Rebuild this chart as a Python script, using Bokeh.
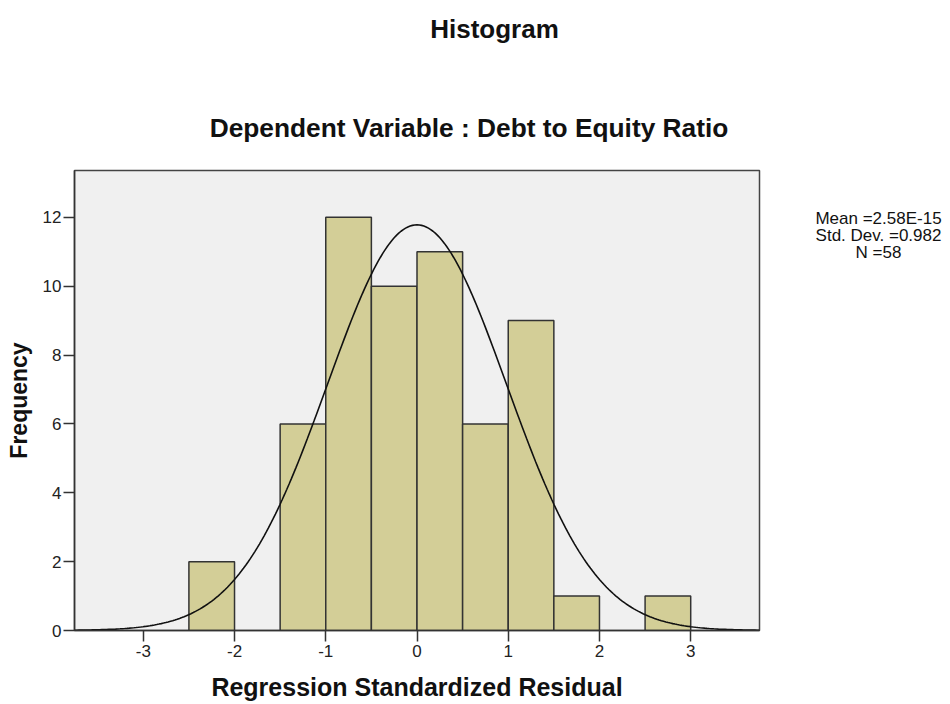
import math
from bokeh.plotting import figure
from bokeh.models import Label, FixedTicker, Range1d, ColumnDataSource
from bokeh.embed import file_html
from bokeh.resources import INLINE

# ---- data ----
bin_left = [-2.5, -1.5, -1.0, -0.5, 0.0, 0.5, 1.0, 1.5, 2.5]
bin_width = 0.5
counts = [2, 6, 12, 10, 11, 6, 9, 1, 1]
mean_val = 2.58e-15
std_dev = 0.982
n_obs = 58
x_ticks = [-3, -2, -1, 0, 1, 2, 3]
x_tick_labels = ["-3", "-2", "-1", "0", "1", "2", "3"]
y_ticks = [0, 2, 4, 6, 8, 10, 12]
y_tick_labels = ["0", "2", "4", "6", "8", "10", "12"]
stats_lines = ["Mean =2.58E-15", "Std. Dev. =0.982", "N =58"]

FONT = "Liberation Sans"
W, H = 950, 704
FL, FR, FT, FB = 74, 759, 170, 630   # frame edges in pixels
x0, x1 = -3.754, 3.754
y0, y1 = 0.0, 13.36

p = figure(width=W, height=H, output_backend="svg", toolbar_location=None,
           title=None,
           x_range=Range1d(x0, x1), y_range=Range1d(y0, y1),
           min_border_left=FL, min_border_right=W - FR,
           min_border_top=FT, min_border_bottom=H - FB)
p.background_fill_color = "#F0F0F0"
p.border_fill_color = "white"
p.outline_line_color = "#444444"
p.outline_line_width = 1.5
p.xgrid.grid_line_color = None
p.ygrid.grid_line_color = None

src = ColumnDataSource(dict(
    left=bin_left,
    right=[b + bin_width for b in bin_left],
    top=counts,
    bottom=[0] * len(counts),
))
p.quad(left="left", right="right", top="top", bottom="bottom", source=src,
       fill_color="#D3CE97", line_color="#333333", line_width=1.5)

# normal curve from the stated statistics
npts = 301
xs = [x0 + (x1 - x0) * i / (npts - 1) for i in range(npts)]
ys = [n_obs * bin_width / (std_dev * math.sqrt(2 * math.pi)) *
      math.exp(-0.5 * ((x - mean_val) / std_dev) ** 2) for x in xs]
p.line(xs, ys, line_color="#111111", line_width=1.6)

for ax in (p.xaxis, p.yaxis):
    ax.axis_line_color = "#333333"
    ax.axis_line_width = 1.5
    ax.major_tick_line_color = "#333333"
    ax.major_tick_line_width = 1.5
    ax.major_tick_out = 11
    ax.major_tick_in = 0
    ax.minor_tick_line_color = None
    ax.major_label_text_font = FONT
    ax.major_label_text_font_size = "17px"
    ax.major_label_text_color = "#222222"
    ax.axis_label_text_font = FONT
    ax.axis_label_text_font_style = "bold"
    ax.axis_label_text_color = "#111111"

p.xaxis.ticker = FixedTicker(ticks=x_ticks)
p.xaxis.major_label_overrides = {t: l for t, l in zip(x_ticks, x_tick_labels)}
p.xaxis.major_label_standoff = 3
p.xaxis.axis_label = "Regression Standardized Residual"
p.xaxis.axis_label_text_font_size = "25px"
p.xaxis.axis_label_standoff = 13

p.yaxis.ticker = FixedTicker(ticks=y_ticks)
p.yaxis.major_label_overrides = {t: l for t, l in zip(y_ticks, y_tick_labels)}
p.yaxis.major_label_standoff = 2
p.yaxis.axis_label = "Frequency"
p.yaxis.axis_label_text_font_size = "23px"
p.yaxis.axis_label_standoff = 8

px_per_x = (FR - FL) / (x1 - x0)
px_per_y = (FB - FT) / (y1 - y0)

def dx(px):
    return x0 + (px - FL) / px_per_x

def dy(py):
    return (FB - py) / px_per_y

def lab(cx, base, text, size, bold):
    # labels kept in the top side panel so they are not clipped to the frame
    p.add_layout(Label(x=dx(cx), y=dy(base), text=text, text_font=FONT,
                       text_font_size=size,
                       text_font_style="bold" if bold else "normal",
                       text_align="center", text_baseline="alphabetic",
                       text_color="#111111"), "above")

lab(494, 28, "Histogram", "26px", True)
lab(468.5, 127, "Dependent Variable : Debt to Equity Ratio", "26.3px", True)
for i, line in enumerate(stats_lines):
    lab(878, 218 + 17 * i, line, "17px", False)

open("out.html", "w").write(file_html(p, INLINE))
